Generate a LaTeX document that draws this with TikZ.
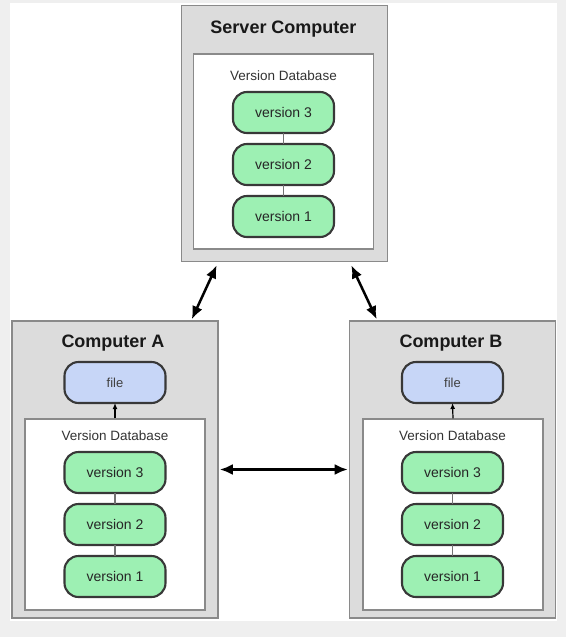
\documentclass[tikz,border=0pt]{standalone}
\usepackage{fontspec}
\setmainfont{Liberation Sans}
\usetikzlibrary{arrows.meta, positioning}
\definecolor{boxgray}{HTML}{DCDCDC}
\definecolor{boxline}{HTML}{8A8A8A}
\definecolor{pillgreen}{HTML}{9DF0B3}
\definecolor{pillblue}{HTML}{C7D6F7}
\definecolor{pillline}{HTML}{383838}
\definecolor{pagegray}{HTML}{EFEFEF}

\begin{document}
\begin{tikzpicture}[x=1pt, y=-1pt,
      computer/.style={draw=boxline, line width=1.6pt, fill=boxgray, minimum width=206pt, inner sep=0pt},
      database/.style={draw=boxline, line width=1.3pt, fill=white, minimum width=180pt, inner sep=0pt},
      version/.style={draw=pillline, line width=2.1pt, fill=pillgreen, rounded corners=14pt, minimum width=101pt, minimum height=41pt, outer sep=0pt, font=\fontsize{14}{16}\selectfont, text=black!85},
      workfile/.style={version, fill=pillblue, font=\fontsize{13}{15}\selectfont, text=black!75},
      boxtitle/.style={font=\bfseries\fontsize{18}{20}\selectfont, text=black!90},
      dblabel/.style={font=\fontsize{13.5}{15}\selectfont, text=black!80},
      link/.style={draw=black!55, line width=1.3pt},
      sync/.style={{Latex[length=13pt,width=11pt]}-{Latex[length=13pt,width=11pt]}, line width=2.5pt},
      node distance=11pt
    ]
    \fill[pagegray] (0,0) rectangle (566,637);
    \fill[white] (10,3) rectangle (557,621);
    \useasboundingbox (0,0) rectangle (566,637);

    % server
    \node[computer, minimum height=256pt] (srv) at (284.5,133.5) {};
    \node[boxtitle] (srvTitle) at (283.5,29) {Server Computer};
    \node[database, minimum height=195pt] (srvDb) at (283.5,151.5) {};
    \node[version] (srvV3) at (283.5,112.5) {version 3};
    \node[version, below=of srvV3] (srvV2) {version 2};
    \node[version, below=of srvV2] (srvV1) {version 1};
    \node[dblabel] (srvDbLabel) at ([yshift=16pt]srvV3.north) {Version Database};
    \draw[link] (srvV3) -- (srvV2);
    \draw[link] (srvV2) -- (srvV1);

    % computer A
    \node[computer, minimum height=297pt] (compA) at (115,469.5) {};
    \node[boxtitle] (compATitle) at (113,343) {Computer A};
    \node[workfile] (fileA) at (115,382.5) {file};
    \node[database, minimum height=191pt] (dbA) at (115,514.5) {};
    \node[version] (aV3) at (115,472.5) {version 3};
    \node[version, below=of aV3] (aV2) {version 2};
    \node[version, below=of aV2] (aV1) {version 1};
    \node[dblabel] (aDbLabel) at ([yshift=16pt]aV3.north) {Version Database};
    \draw[link] (aV3) -- (aV2);
    \draw[link] (aV2) -- (aV1);
    \draw[-{Latex[length=6pt,width=5pt]}, line width=1.2pt] (dbA.north) -- (fileA.south);

    % computer B
    \node[computer, minimum height=297pt] (compB) at (452.5,469.5) {};
    \node[boxtitle] (compBTitle) at (451,343) {Computer B};
    \node[workfile] (fileB) at (452.5,382.5) {file};
    \node[database, minimum height=191pt] (dbB) at (453,514.5) {};
    \node[version] (bV3) at (452.5,472.5) {version 3};
    \node[version, below=of bV3] (bV2) {version 2};
    \node[version, below=of bV2] (bV1) {version 1};
    \node[dblabel] (bDbLabel) at ([yshift=16pt]bV3.north) {Version Database};
    \draw[link] (bV3) -- (bV2);
    \draw[link] (bV2) -- (bV1);
    \draw[-{Latex[length=6pt,width=5pt]}, line width=1.2pt] (dbB.north) -- (fileB.south);

    % sync arrows
    \draw[sync] ([xshift=36pt,yshift=-3pt]srv.south west) -- ([xshift=-27pt,yshift=1pt]compA.north east);
    \draw[sync] ([xshift=-37pt,yshift=-3pt]srv.south east) -- ([xshift=28pt,yshift=1pt]compB.north west);
    \draw[sync] ([xshift=1pt]compA.east) -- ([xshift=-1pt]compB.west);
  \end{tikzpicture}
\end{document}
